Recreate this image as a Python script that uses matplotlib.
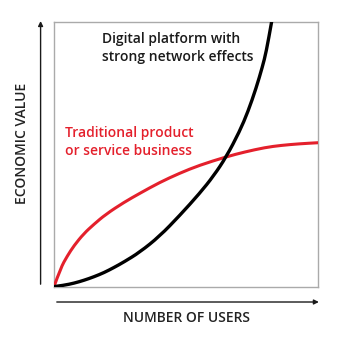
import matplotlib
matplotlib.use('Agg')
import matplotlib.pyplot as plt
from matplotlib.path import Path
from matplotlib.patches import PathPatch, FancyArrowPatch

# values (x = users, y = value, both 0..1)
trad_x = [0.0, 0.025, 0.05, 0.076, 0.113, 0.151, 0.195, 0.265, 0.325, 0.40, 0.476,
          0.551, 0.653, 0.722, 0.80, 0.86, 0.93, 1.0]
trad_y = [0.0, 0.07, 0.115, 0.155, 0.20, 0.235, 0.272, 0.318, 0.352, 0.393, 0.428,
          0.458, 0.49, 0.508, 0.525, 0.533, 0.539, 0.543]
plat_x = [0.0, 0.038, 0.076, 0.114, 0.151, 0.19, 0.227, 0.265, 0.325, 0.40, 0.476,
          0.552, 0.605, 0.653, 0.703, 0.735, 0.766, 0.79, 0.804, 0.825, 0.835]
plat_y = [0.0, 0.005, 0.013, 0.024, 0.037, 0.053, 0.072, 0.093, 0.13, 0.19, 0.268,
          0.352, 0.418, 0.49, 0.585, 0.66, 0.749, 0.83, 0.885, 1.0, 1.06]

red = '#e4202c'
plt.rcParams['font.family'] = ['Open Sans', 'DejaVu Sans']


def smooth_path(xs, ys):
    # quadratic bezier through midpoints, so the read points give a smooth line
    verts = [(xs[0], ys[0])]
    codes = [Path.MOVETO]
    for i in range(1, len(xs) - 1):
        verts += [(xs[i], ys[i]), ((xs[i] + xs[i + 1]) / 2, (ys[i] + ys[i + 1]) / 2)]
        codes += [Path.CURVE3, Path.CURVE3]
    verts.append((xs[-1], ys[-1]))
    codes.append(Path.LINETO)
    return Path(verts, codes)


fig = plt.figure(figsize=(3.44, 3.38), dpi=100)
ax = fig.add_axes([0.157, 0.152, 0.767, 0.784])
ax.add_patch(PathPatch(smooth_path(trad_x, trad_y), fill=False, edgecolor=red, lw=2.2,
                       capstyle='round', zorder=3))
ax.add_patch(PathPatch(smooth_path(plat_x, plat_y), fill=False, edgecolor='black', lw=2.4,
                       capstyle='round', zorder=3))
ax.set_xlim(0, 1)
ax.set_ylim(0, 1)
ax.set_xticks([])
ax.set_yticks([])
for s in ax.spines.values():
    s.set_color('#aaaaaa')
    s.set_linewidth(1.0)

ax.text(0.18, 0.90, 'Digital platform with\nstrong network effects', fontsize=10,
        fontweight='semibold', color='#1a1a1a', va='center', ha='left', linespacing=1.4)
ax.text(0.04, 0.545, 'Traditional product\nor service business', fontsize=10,
        fontweight='semibold', color=red, va='center', ha='left', linespacing=1.4)

# axis arrows
fig.patches.append(FancyArrowPatch((0.118, 0.151), (0.118, 0.946),
                   transform=fig.transFigure, arrowstyle='-|>', mutation_scale=7,
                   color='#1a1a1a', lw=1.0))
fig.patches.append(FancyArrowPatch((0.157, 0.1065), (0.935, 0.1065),
                   transform=fig.transFigure, arrowstyle='-|>', mutation_scale=7,
                   color='#1a1a1a', lw=1.0))

fig.text(0.541, 0.058, 'NUMBER OF USERS', fontsize=10, fontweight='semibold',
         color='#222222', ha='center', va='center')
fig.text(0.064, 0.577, 'ECONOMIC VALUE', fontsize=10, fontweight='semibold',
         color='#222222', ha='center', va='center', rotation=90)

fig.savefig('out.png', dpi=100)
